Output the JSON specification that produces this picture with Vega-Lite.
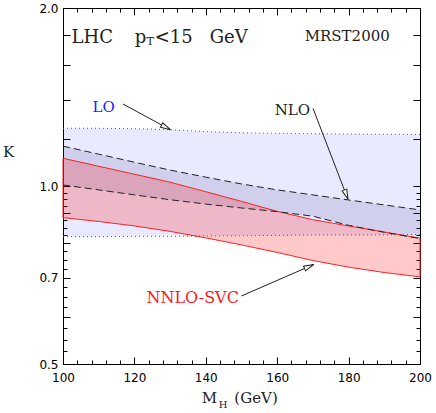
{
  "$schema": "https://vega.github.io/schema/vega-lite/v6.json",
  "width": 357,
  "height": 356,
  "autosize": {"type": "none"},
  "padding": {"left": 63, "top": 8, "right": 16, "bottom": 49},
  "background": "white",
  "config": {
    "view": {"stroke": "black", "strokeWidth": 1},
    "axis": {"grid": false, "domainColor": "black", "tickColor": "black", "labelColor": "black", "labelFont": "DejaVu Sans", "labelFontSize": 12, "zindex": 1, "domainWidth": 1, "tickWidth": 1}
  },
  "datasets": {
    "lo": [
      {"M": 100, "lo": 0.821, "hi": 1.252},
      {"M": 110, "lo": 0.821, "hi": 1.252},
      {"M": 120, "lo": 0.822, "hi": 1.25},
      {"M": 130, "lo": 0.822, "hi": 1.245},
      {"M": 140, "lo": 0.823, "hi": 1.236},
      {"M": 150, "lo": 0.824, "hi": 1.23},
      {"M": 160, "lo": 0.825, "hi": 1.228},
      {"M": 170, "lo": 0.826, "hi": 1.226},
      {"M": 180, "lo": 0.826, "hi": 1.224},
      {"M": 190, "lo": 0.827, "hi": 1.223},
      {"M": 200, "lo": 0.828, "hi": 1.222}
    ],
    "nlo": [
      {"M": 100, "lo": 1.004, "hi": 1.168},
      {"M": 110, "lo": 0.985, "hi": 1.132},
      {"M": 120, "lo": 0.966, "hi": 1.097},
      {"M": 130, "lo": 0.948, "hi": 1.064},
      {"M": 140, "lo": 0.932, "hi": 1.035},
      {"M": 150, "lo": 0.918, "hi": 1.008},
      {"M": 160, "lo": 0.905, "hi": 0.985},
      {"M": 170, "lo": 0.889, "hi": 0.966},
      {"M": 180, "lo": 0.858, "hi": 0.947},
      {"M": 190, "lo": 0.835, "hi": 0.929},
      {"M": 200, "lo": 0.815, "hi": 0.911}
    ],
    "nnlo": [
      {"M": 100, "lo": 0.884, "hi": 1.114},
      {"M": 110, "lo": 0.871, "hi": 1.08},
      {"M": 120, "lo": 0.856, "hi": 1.047},
      {"M": 130, "lo": 0.838, "hi": 1.015},
      {"M": 140, "lo": 0.817, "hi": 0.978},
      {"M": 150, "lo": 0.795, "hi": 0.942},
      {"M": 160, "lo": 0.772, "hi": 0.906},
      {"M": 170, "lo": 0.748, "hi": 0.877},
      {"M": 180, "lo": 0.729, "hi": 0.856},
      {"M": 190, "lo": 0.714, "hi": 0.836},
      {"M": 200, "lo": 0.702, "hi": 0.816}
    ],
    "arrows": [
      {"name": "LO", "M1": 116.81, "K1": 1.376, "M2": 130.08, "K2": 1.245},
      {"name": "NLO", "M1": 170.03, "K1": 1.353, "M2": 179.83, "K2": 0.9495},
      {"name": "NNLO", "M1": 149.97, "K1": 0.6516, "M2": 170.22, "K2": 0.7366}
    ]
  },
  "layer": [
    {
      "data": {"name": "lo"},
      "mark": {"type": "area", "fill": "#3333ff", "fillOpacity": 0.1},
      "encoding": {
        "x": {"field": "M", "type": "quantitative", "scale": {"domain": [100, 200], "nice": false, "zero": false},
          "axis": {"orient": "bottom", "values": [100, 120, 140, 160, 180, 200], "tickSize": -7, "labelPadding": 15, "labelFlush": false, "labelOverlap": false, "labelBound": false, "title": null, "format": "d"}},
        "y": {"field": "hi", "type": "quantitative", "scale": {"type": "log", "domain": [0.5, 2], "nice": false, "zero": false},
          "axis": {"orient": "left", "values": [0.5, 0.6, 0.7, 0.8, 0.9, 1, 1.2, 1.4, 1.6, 1.8, 2], "tickSize": -7, "labelPadding": 12, "labelOverlap": false, "labelBound": false, "labelFlush": false,
            "labelExpr": "(datum.value == 0.5 || datum.value == 0.7 || datum.value == 1 || datum.value == 2) ? format(datum.value, '.1f') : ''", "title": null}},
        "y2": {"field": "lo"}
      }
    },
    {
      "data": {"name": "nlo"},
      "mark": {"type": "area", "fill": "#1a1a60", "fillOpacity": 0.12},
      "encoding": {
        "x": {"field": "M", "type": "quantitative", "axis": {"orient": "top", "values": [100, 120, 140, 160, 180, 200], "tickSize": -7, "labels": false, "title": null}},
        "y": {"field": "hi", "type": "quantitative", "axis": {"orient": "right", "values": [0.5, 0.6, 0.7, 0.8, 0.9, 1, 1.2, 1.4, 1.6, 1.8, 2], "tickSize": -7, "labels": false, "title": null}},
        "y2": {"field": "lo"}
      }
    },
    {
      "data": {"name": "nnlo"},
      "mark": {"type": "area", "fill": "#ff0000", "fillOpacity": 0.21, "stroke": "#ff2020", "strokeWidth": 1},
      "encoding": {
        "x": {"field": "M", "type": "quantitative", "axis": {"orient": "bottom", "values": [104, 108, 112, 116, 124, 128, 132, 136, 144, 148, 152, 156, 164, 168, 172, 176, 184, 188, 192, 196], "tickSize": -4, "labels": false, "title": null}},
        "y": {"field": "hi", "type": "quantitative", "axis": {"orient": "left", "values": [0.525, 0.55, 0.575, 0.625, 0.65, 0.675, 0.725, 0.75, 0.775, 0.825, 0.85, 0.875, 0.925, 0.95, 0.975], "tickSize": -4, "labels": false, "title": null}},
        "y2": {"field": "lo"}
      }
    },
    {
      "data": {"name": "nlo"},
      "mark": {"type": "line", "stroke": "#222222", "strokeWidth": 1, "strokeDash": [7, 4]},
      "encoding": {
        "x": {"field": "M", "type": "quantitative", "axis": {"orient": "top", "values": [104, 108, 112, 116, 124, 128, 132, 136, 144, 148, 152, 156, 164, 168, 172, 176, 184, 188, 192, 196], "tickSize": -4, "labels": false, "title": null}},
        "y": {"field": "hi", "type": "quantitative", "axis": {"orient": "right", "values": [0.525, 0.55, 0.575, 0.625, 0.65, 0.675, 0.725, 0.75, 0.775, 0.825, 0.85, 0.875, 0.925, 0.95, 0.975], "tickSize": -4, "labels": false, "title": null}}
      }
    },
    {
      "data": {"name": "nlo"},
      "mark": {"type": "line", "stroke": "#222222", "strokeWidth": 1, "strokeDash": [7, 4]},
      "encoding": {
        "x": {"field": "M", "type": "quantitative", "axis": null},
        "y": {"field": "lo", "type": "quantitative", "axis": null}
      }
    },
    {
      "data": {"name": "lo"},
      "mark": {"type": "line", "stroke": "#4444ff", "strokeWidth": 1, "strokeDash": [1, 3]},
      "encoding": {
        "x": {"field": "M", "type": "quantitative", "axis": null},
        "y": {"field": "hi", "type": "quantitative", "axis": null}
      }
    },
    {
      "data": {"name": "lo"},
      "mark": {"type": "line", "stroke": "#4444ff", "strokeWidth": 1, "strokeDash": [1, 3]},
      "encoding": {
        "x": {"field": "M", "type": "quantitative", "axis": null},
        "y": {"field": "lo", "type": "quantitative", "axis": null}
      }
    },
    {
      "data": {"name": "arrows"},
      "mark": {"type": "rule", "stroke": "#222222", "strokeWidth": 1},
      "encoding": {
        "x": {"field": "M1", "type": "quantitative", "axis": null},
        "y": {"field": "K1", "type": "quantitative", "axis": null},
        "x2": {"field": "M2"},
        "y2": {"field": "K2"}
      }
    },
    {
      "data": {"name": "arrows"},
      "transform": [{"filter": "datum.name == 'LO'"}],
      "mark": {"type": "point", "shape": "M0,0L-2,-0.5L-2,0.5Z", "size": 100, "angle": 28.5, "filled": true, "fill": "white", "stroke": "#222222", "strokeWidth": 1, "opacity": 1},
      "encoding": {
        "x": {"field": "M2", "type": "quantitative", "axis": null},
        "y": {"field": "K2", "type": "quantitative", "axis": null}
      }
    },
    {
      "data": {"name": "arrows"},
      "transform": [{"filter": "datum.name == 'NLO'"}],
      "mark": {"type": "point", "shape": "M0,0L-2,-0.5L-2,0.5Z", "size": 100, "angle": 69, "filled": true, "fill": "white", "stroke": "#222222", "strokeWidth": 1, "opacity": 1},
      "encoding": {
        "x": {"field": "M2", "type": "quantitative", "axis": null},
        "y": {"field": "K2", "type": "quantitative", "axis": null}
      }
    },
    {
      "data": {"name": "arrows"},
      "transform": [{"filter": "datum.name == 'NNLO'"}],
      "mark": {"type": "point", "shape": "M0,0L-2,-0.5L-2,0.5Z", "size": 100, "angle": -23.5, "filled": true, "fill": "white", "stroke": "#222222", "strokeWidth": 1, "opacity": 1},
      "encoding": {
        "x": {"field": "M2", "type": "quantitative", "axis": null},
        "y": {"field": "K2", "type": "quantitative", "axis": null}
      }
    },
    {
      "data": {"values": [
        {"t": "LHC", "M": 102.4, "K": 1.747},
        {"t": "p", "M": 120.1, "K": 1.747},
        {"t": "<15", "M": 125.7, "K": 1.747},
        {"t": "GeV", "M": 141.1, "K": 1.747}
      ]},
      "mark": {"type": "text", "font": "DejaVu Serif", "fontSize": 18, "align": "left", "baseline": "alphabetic", "color": "#222222"},
      "encoding": {
        "x": {"field": "M", "type": "quantitative", "axis": null},
        "y": {"field": "K", "type": "quantitative", "axis": null},
        "text": {"field": "t"}
      }
    },
    {
      "data": {"values": [{"t": "T", "M": 123.4, "K": 1.732}]},
      "mark": {"type": "text", "font": "DejaVu Serif", "fontSize": 11, "align": "left", "baseline": "alphabetic", "color": "#222222"},
      "encoding": {
        "x": {"field": "M", "type": "quantitative", "axis": null},
        "y": {"field": "K", "type": "quantitative", "axis": null},
        "text": {"field": "t"}
      }
    },
    {
      "data": {"values": [{"t": "MRST2000", "M": 167.7, "K": 1.761}]},
      "mark": {"type": "text", "font": "DejaVu Serif", "fontSize": 15, "align": "left", "baseline": "alphabetic", "color": "#222222"},
      "encoding": {
        "x": {"field": "M", "type": "quantitative", "axis": null},
        "y": {"field": "K", "type": "quantitative", "axis": null},
        "text": {"field": "t"}
      }
    },
    {
      "data": {"values": [{"t": "LO", "M": 108.24, "K": 1.3355}]},
      "mark": {"type": "text", "font": "DejaVu Serif", "fontSize": 15, "align": "left", "baseline": "alphabetic", "color": "#1a1aff"},
      "encoding": {
        "x": {"field": "M", "type": "quantitative", "axis": null},
        "y": {"field": "K", "type": "quantitative", "axis": null},
        "text": {"field": "t"}
      }
    },
    {
      "data": {"values": [{"t": "NLO", "M": 159.3, "K": 1.3185}]},
      "mark": {"type": "text", "font": "DejaVu Serif", "fontSize": 15, "align": "left", "baseline": "alphabetic", "color": "#222222"},
      "encoding": {
        "x": {"field": "M", "type": "quantitative", "axis": null},
        "y": {"field": "K", "type": "quantitative", "axis": null},
        "text": {"field": "t"}
      }
    },
    {
      "data": {"values": [{"t": "NNLO-SVC", "M": 123.36, "K": 0.6333}]},
      "mark": {"type": "text", "font": "DejaVu Serif", "fontSize": 16, "align": "left", "baseline": "alphabetic", "color": "#ff1a1a"},
      "encoding": {
        "x": {"field": "M", "type": "quantitative", "axis": null},
        "y": {"field": "K", "type": "quantitative", "axis": null},
        "text": {"field": "t"}
      }
    },
    {
      "data": {"values": [
        {"t": "M", "M": 138.9, "K": 0.42905},
        {"t": "(GeV)", "M": 148.0, "K": 0.42905},
        {"t": "K", "M": 83.19, "K": 1.1208}
      ]},
      "mark": {"type": "text", "font": "DejaVu Serif", "fontSize": 15, "align": "left", "baseline": "alphabetic", "color": "#222222"},
      "encoding": {
        "x": {"field": "M", "type": "quantitative", "axis": null},
        "y": {"field": "K", "type": "quantitative", "axis": null},
        "text": {"field": "t"}
      }
    },
    {
      "data": {"values": [{"t": "H", "M": 143.6, "K": 0.4208}]},
      "mark": {"type": "text", "font": "DejaVu Serif", "fontSize": 10, "align": "left", "baseline": "alphabetic", "color": "#222222"},
      "encoding": {
        "x": {"field": "M", "type": "quantitative", "axis": null},
        "y": {"field": "K", "type": "quantitative", "axis": null},
        "text": {"field": "t"}
      }
    }
  ],
  "resolve": {"axis": {"x": "independent", "y": "independent"}}
}
